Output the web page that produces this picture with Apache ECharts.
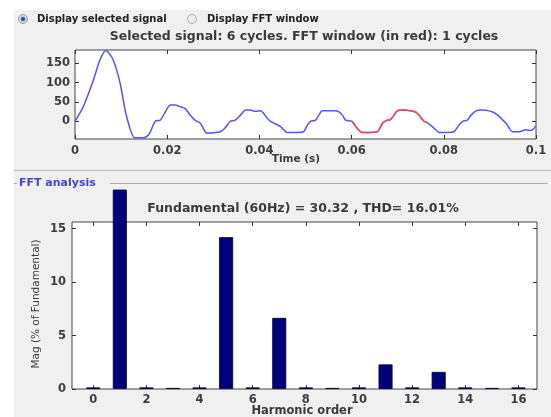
<!DOCTYPE html>
<html>
<head>
<meta charset="utf-8">
<script src="https://cdn.jsdelivr.net/npm/echarts@6/dist/echarts.min.js"></script>
<style>
  html, body { margin: 0; padding: 0; background: #ffffff; }
  #wrap { position: relative; width: 551px; height: 417px; background: #ffffff; overflow: hidden; }
  #panel { position: absolute; left: 14px; top: 10px; right: 0; bottom: 0; background: #f0f0f0; }
  #chart { position: absolute; left: 0; top: 0; width: 551px; height: 417px; }
</style>
</head>
<body>
<div id="wrap"><div id="panel"></div><div id="chart"></div></div>
<script>
// ---- Data ----
const timeS = [0, 0.0018, 0.004, 0.0054, 0.0067, 0.0083, 0.0098, 0.0112, 0.013, 0.0148, 0.016, 0.0174, 0.0185, 0.0192,
  0.0207, 0.0217, 0.0228, 0.0239, 0.025, 0.026, 0.0272, 0.0286, 0.030, 0.0315, 0.0325, 0.0337, 0.0348, 0.0359,
  0.037, 0.038, 0.0391, 0.0402, 0.0417, 0.0424, 0.0446, 0.046, 0.0482, 0.0496, 0.0504, 0.0511, 0.0522, 0.0529,
  0.0536, 0.0551, 0.0565, 0.0572, 0.058, 0.0587, 0.0601, 0.0612, 0.0623, 0.0641, 0.0656, 0.0667, 0.0674, 0.0685,
  0.0692, 0.0699, 0.0714, 0.0728, 0.0739, 0.0746, 0.0757, 0.0765, 0.0779, 0.079, 0.0808, 0.0822, 0.0833, 0.0841,
  0.0851, 0.0859, 0.087, 0.0884, 0.0898, 0.0906, 0.0917, 0.0928, 0.0935, 0.0949, 0.0964, 0.0978, 0.0989, 0.1];
const signal = [0, 38, 107, 159, 184, 159, 98, 12, -43, -43, -35, 0, 3, 16,
  42, 42, 38, 33, 16, 3, -5, -31, -30, -27, -18, 0, 3, 16,
  29, 29, 26, 27, 8, 0, -14, -29, -29, -27, -10, 0, 3, 16,
  27, 27, 27, 25, 16, 3, 0, -18, -29, -29, -27, -5, 1, 5,
  16, 27, 29, 27, 24, 16, 0, -4, -18, -29, -29, -27, -10, 0,
  3, 16, 27, 29, 27, 24, 16, 3, -5, -27, -27, -22, -24, -12];
const fftWindowStart = 0.06;
const fftWindowEnd = 0.0767;

const harmonicOrder = [0, 1, 2, 3, 4, 5, 6, 7, 8, 9, 10, 11, 12, 13, 14, 15, 16];
const magnitude = [0.15, 100, 0.15, 0.1, 0.15, 14.2, 0.15, 6.65, 0.15, 0.1, 0.15, 2.3, 0.15, 1.6, 0.15, 0.1, 0.15];

const timeTicks = [0, 0.02, 0.04, 0.06, 0.08, 0.1];
const signalTicks = [0, 50, 100, 150];
const harmonicTicks = [0, 2, 4, 6, 8, 10, 12, 14, 16];
const magTicks = [0, 5, 10, 15];

const signalRange = [-46, 185];
const harmonicRange = [-0.8, 16.7];
const magMax = 15.62;

// ---- Layout ----
const G0 = { left: 75, top: 50, width: 461, height: 89 };
const G1 = { left: 72, top: 222, width: 465, height: 167 };
const barTop = 190; // bars are clipped here in the reference
const G2 = { left: G1.left, top: barTop, width: G1.width, height: G1.top + G1.height - barTop };
const barAxisMax = magMax * G2.height / G1.height;

const FONT = 'DejaVu Sans';
const tickColor = '#333';
const labelStyle = { fontFamily: FONT, fontWeight: 'bold', fontSize: 11.5, color: '#3c3c3c' };

const allPts = timeS.map((t, i) => [t, signal[i]]);
const redPts = allPts.filter(p => p[0] >= fftWindowStart - 1e-9 && p[0] <= fftWindowEnd);

function tickAxis(gridIndex, position, values, extra) {
  return Object.assign({
    type: 'value', gridIndex, position,
    axisLine: { show: false, onZero: false },
    splitLine: { show: false },
    axisTick: { show: true, inside: true, length: 4, customValues: values, lineStyle: { color: tickColor, width: 1 } },
    axisLabel: { show: false, customValues: values }
  }, extra);
}

const chart = echarts.init(document.getElementById('chart'), null, { renderer: 'canvas' });
const gridBase = { show: true, backgroundColor: '#ffffff', borderColor: '#444', borderWidth: 1 };

chart.setOption({
  animation: false,
  backgroundColor: 'transparent',
  grid: [
    Object.assign({}, gridBase, G0),
    Object.assign({}, gridBase, G1),
    Object.assign({}, G2, { show: false })
  ],
  xAxis: [
    tickAxis(0, 'bottom', timeTicks, { min: 0, max: 0.1,
      axisLabel: Object.assign({ show: true, customValues: timeTicks, margin: 6,
        formatter: v => (Math.round(v * 100) / 100).toString() }, labelStyle) }),
    tickAxis(0, 'top', timeTicks, { min: 0, max: 0.1 }),
    tickAxis(1, 'bottom', harmonicTicks, { min: harmonicRange[0], max: harmonicRange[1],
      axisLabel: Object.assign({ show: true, customValues: harmonicTicks, margin: 5 }, labelStyle) }),
    tickAxis(1, 'top', harmonicTicks, { min: harmonicRange[0], max: harmonicRange[1] }),
    { type: 'value', gridIndex: 2, min: harmonicRange[0], max: harmonicRange[1], show: false }
  ],
  yAxis: [
    tickAxis(0, 'left', signalTicks, { min: signalRange[0], max: signalRange[1],
      axisLabel: Object.assign({ show: true, customValues: signalTicks, margin: 5 }, labelStyle) }),
    tickAxis(0, 'right', signalTicks, { min: signalRange[0], max: signalRange[1] }),
    tickAxis(1, 'left', magTicks, { min: 0, max: magMax,
      axisLabel: Object.assign({ show: true, customValues: magTicks, margin: 6 }, labelStyle) }),
    tickAxis(1, 'right', magTicks, { min: 0, max: magMax }),
    { type: 'value', gridIndex: 2, min: 0, max: barAxisMax, show: false }
  ],
  series: [
    { type: 'line', xAxisIndex: 0, yAxisIndex: 0, data: allPts, showSymbol: false, smooth: 0.25,
      lineStyle: { color: '#5252ff', width: 1.5 }, z: 3 },
    { type: 'line', xAxisIndex: 0, yAxisIndex: 0, data: redPts, showSymbol: false, smooth: 0.25,
      lineStyle: { color: '#ff4848', width: 1.5 }, z: 4 },
    { type: 'bar', xAxisIndex: 4, yAxisIndex: 4, data: harmonicOrder.map((h, i) => [h, magnitude[i]]),
      barWidth: 14, clip: true,
      itemStyle: { color: '#00007c', borderColor: '#000030', borderWidth: 0.8 }, z: 3 }
  ],
  graphic: [
    // radio buttons
    { type: 'circle', shape: { cx: 23, cy: 19, r: 4.5 }, style: { fill: '#d8d8d8', stroke: '#9a9a9a', lineWidth: 1 } },
    { type: 'circle', shape: { cx: 23, cy: 19, r: 2.2 }, style: { fill: '#1e5fa8' } },
    { type: 'text', x: 37, y: 19, style: { text: 'Display selected signal', fontFamily: FONT, fontWeight: 'bold', fontSize: 10, fill: '#222', verticalAlign: 'middle' } },
    { type: 'circle', shape: { cx: 192, cy: 19, r: 4.5 }, style: { fill: '#ececec', stroke: '#b0b0b0', lineWidth: 1 } },
    { type: 'text', x: 207, y: 19, style: { text: 'Display FFT window', fontFamily: FONT, fontWeight: 'bold', fontSize: 10, fill: '#222', verticalAlign: 'middle' } },
    // top title
    { type: 'text', x: 304, y: 37, style: { text: 'Selected signal: 6 cycles. FFT window (in red): 1 cycles', fontFamily: FONT, fontWeight: 'bold', fontSize: 12.5, fill: '#3a3a3a', align: 'center', verticalAlign: 'middle' } },
    { type: 'text', x: 296, y: 159, style: { text: 'Time (s)', fontFamily: FONT, fontWeight: 'bold', fontSize: 10.5, fill: '#3a3a3a', align: 'center', verticalAlign: 'middle' } },
    // panel separators
    { type: 'line', shape: { x1: 14, y1: 170.5, x2: 551, y2: 170.5 }, style: { stroke: '#c4c4c4', lineWidth: 1.5 } },
    { type: 'line', shape: { x1: 14, y1: 183.5, x2: 17, y2: 183.5 }, style: { stroke: '#a8a8a8', lineWidth: 1 } },
    { type: 'line', shape: { x1: 110, y1: 183.5, x2: 547, y2: 183.5 }, style: { stroke: '#a8a8a8', lineWidth: 1 } },
    { type: 'text', x: 19, y: 183, style: { text: 'FFT analysis', fontFamily: FONT, fontWeight: 'bold', fontSize: 11, fill: '#4444cc', verticalAlign: 'middle' } },
    // bottom titles
    { type: 'text', x: 303, y: 209, style: { text: 'Fundamental (60Hz) = 30.32 , THD= 16.01%', fontFamily: FONT, fontWeight: 'bold', fontSize: 12.5, fill: '#3a3a3a', align: 'center', verticalAlign: 'middle' } },
    { type: 'text', x: 302, y: 411, style: { text: 'Harmonic order', fontFamily: FONT, fontWeight: 'bold', fontSize: 11.5, fill: '#3a3a3a', align: 'center', verticalAlign: 'middle' } },
    { type: 'text', x: 36, y: 304, rotation: Math.PI / 2, style: { text: 'Mag (% of Fundamental)', fontFamily: FONT, fontSize: 10.5, fill: '#3a3a3a', align: 'center', verticalAlign: 'middle' } }
  ]
});
</script>
</body>
</html>
